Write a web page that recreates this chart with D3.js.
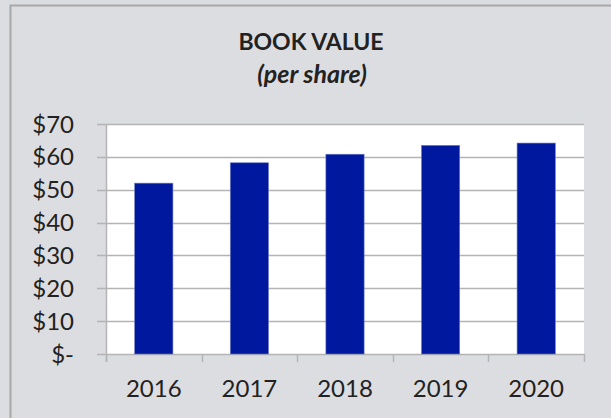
<!DOCTYPE html>
<html>
  <head>
    <meta charset="utf-8" />
    <title>book value</title>
    <script src="https://d3js.org/d3.v7.min.js"></script>
    <style>
      body {
        margin: 0;
        background: #dcdde0;
      }
    </style>
  </head>
  <body>

    <svg id="chart"></svg>

    <script>

      var years = ["2016", "2017", "2018", "2019", "2020"];
      var bookValue = [52.0, 58.2, 60.8, 63.5, 64.2];
      var yTicks = [0, 10, 20, 30, 40, 50, 60, 70];

      var width = 611;
      var height = 418;
      var margin = { top: 124, right: 27, bottom: 64, left: 106 };
      var font = "Lato, 'Open Sans', sans-serif";

      var svg = d3.select("#chart")
        .attr("width", width)
        .attr("height", height);

      // background + frame (only top and left edges are visible)
      svg.append("rect")
        .attr("width", width).attr("height", height)
        .attr("fill", "#dcdde0");
      svg.append("path")
        .attr("d", "M10.5," + height + "V5.5H" + width)
        .attr("fill", "none")
        .attr("stroke", "#a8a8a8")
        .attr("stroke-width", 2);

      var x = d3.scaleBand()
        .domain(years)
        .range([margin.left, width - margin.right]);

      var y = d3.scaleLinear()
        .domain([0, 70])
        .range([height - margin.bottom, margin.top]);

      // plot area
      svg.append("rect")
        .attr("x", x.range()[0])
        .attr("y", y(70))
        .attr("width", x.range()[1] - x.range()[0])
        .attr("height", y(0) - y(70))
        .attr("fill", "#ffffff");

      // gridlines
      svg.append("g").selectAll("line")
        .data(yTicks)
        .enter().append("line")
        .attr("x1", margin.left - 9)
        .attr("x2", width - margin.right)
        .attr("y1", function(d) { return Math.round(y(d)) + 0.5; })
        .attr("y2", function(d) { return Math.round(y(d)) + 0.5; })
        .attr("stroke", "#b4b4b4")
        .attr("stroke-width", 1.5);

      // y axis line
      svg.append("line")
        .attr("x1", margin.left + 0.5).attr("x2", margin.left + 0.5)
        .attr("y1", y(70)).attr("y2", y(0) + 8)
        .attr("stroke", "#b4b4b4")
        .attr("stroke-width", 1.5);

      // x ticks at category boundaries
      var bounds = years.map(function(d) { return x(d); }).concat([x.range()[1]]);
      svg.append("g").selectAll("line")
        .data(bounds)
        .enter().append("line")
        .attr("x1", function(d) { return Math.round(d) + 0.5; })
        .attr("x2", function(d) { return Math.round(d) + 0.5; })
        .attr("y1", y(0))
        .attr("y2", y(0) + 8)
        .attr("stroke", "#b4b4b4")
        .attr("stroke-width", 1.5);

      // bars
      var barW = x.bandwidth() * 0.4;
      svg.append("g").selectAll("rect")
        .data(bookValue)
        .enter().append("rect")
        .attr("x", function(d, i) { return x(years[i]) + (x.bandwidth() - barW) / 2; })
        .attr("y", function(d) { return y(d); })
        .attr("width", barW)
        .attr("height", function(d) { return y(0) - y(d); })
        .attr("fill", "#00189e")
        .attr("stroke", "#6f7cc4")
        .attr("stroke-width", 0.6);

      // y labels
      svg.append("g").selectAll("text")
        .data(yTicks)
        .enter().append("text")
        .attr("x", 74)
        .attr("y", function(d) { return y(d); })
        .attr("dy", "0.36em")
        .attr("text-anchor", "end")
        .attr("font-family", font)
        .attr("font-size", "24px")
        .attr("fill", "#222")
        .text(function(d) { return d === 0 ? "$-" : "$" + d; });

      // x labels
      svg.append("g").selectAll("text")
        .data(years)
        .enter().append("text")
        .attr("x", function(d) { return x(d) + x.bandwidth() / 2; })
        .attr("y", 397)
        .attr("text-anchor", "middle")
        .attr("font-family", font)
        .attr("font-size", "24px")
        .attr("fill", "#222")
        .text(function(d) { return d; });

      // title
      svg.append("text")
        .attr("x", 311)
        .attr("y", 50)
        .attr("text-anchor", "middle")
        .attr("font-family", font)
        .attr("font-weight", "bold")
        .attr("font-size", "23px")
        .attr("fill", "#222")
        .text("BOOK VALUE");

      svg.append("text")
        .attr("x", 312)
        .attr("y", 83)
        .attr("text-anchor", "middle")
        .attr("font-family", font)
        .attr("font-weight", "bold")
        .attr("font-style", "italic")
        .attr("font-size", "25px")
        .attr("fill", "#222")
        .text("(per share)");

    </script>

  </body>
</html>
